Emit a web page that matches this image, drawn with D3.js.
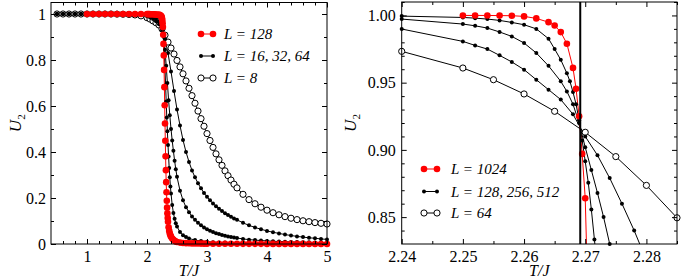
<!DOCTYPE html>
<html><head><meta charset="utf-8">
<script src="https://cdn.jsdelivr.net/npm/d3@7"></script>
<style>
body{margin:0;background:#fff}
svg{display:block}
svg text{font-family:"Liberation Serif","Times New Roman",Times,"Nimbus Roman","DejaVu Serif",serif;fill:#000}
</style>
</head><body><svg id="c" width="681" height="280"></svg>
<script>
// ---------------- DATA: left panel (T/J, U2) ----------------
const leftL8 = [[0.5,1],[0.6,1],[0.7,1],[0.8,1],[0.9,1],[1.0,1],[1.1,1],[1.2,1],[1.3,1],[1.4,1],[1.5,0.9995],[1.6,0.999],[1.7,0.998],[1.8,0.996],[1.9,0.992],
 [2.0,0.984],[2.05,0.978],[2.1,0.97],[2.15,0.962],[2.2,0.952],[2.25,0.935],[2.3,0.908],[2.35,0.878],[2.4,0.852],[2.45,0.826],
 [2.5,0.798],[2.55,0.77],[2.6,0.74],[2.65,0.709],[2.7,0.677],[2.75,0.645],[2.8,0.612],[2.85,0.578],[2.9,0.545],[2.95,0.512],
 [3.0,0.48],[3.05,0.45],[3.1,0.42],[3.15,0.392],[3.2,0.366],[3.25,0.342],[3.3,0.318],[3.35,0.297],[3.4,0.278],[3.45,0.26],[3.5,0.244],
 [3.6,0.216],[3.7,0.193],[3.8,0.175],[3.9,0.16],[4.0,0.147],[4.1,0.136],[4.2,0.127],[4.3,0.119],[4.4,0.112],[4.5,0.106],[4.6,0.101],[4.7,0.097],[4.8,0.093],[4.9,0.09],[5.0,0.087]];

const leftL16 = [[0.5,1],[0.6,1],[0.7,1],[0.8,1],[0.9,1],[1.0,1],[1.1,1],[1.2,1],[1.3,1],[1.4,1],[1.5,1],[1.6,1],[1.7,1],[1.8,0.999],[1.9,0.996],
 [2.0,0.99],[2.05,0.985],[2.1,0.978],[2.15,0.968],[2.2,0.955],[2.25,0.93],[2.3,0.89],[2.35,0.83],[2.4,0.75],[2.45,0.665],
 [2.5,0.585],[2.55,0.515],[2.6,0.452],[2.65,0.4],[2.7,0.357],[2.75,0.32],[2.8,0.29],[2.85,0.264],[2.9,0.242],[2.95,0.222],
 [3.0,0.205],[3.05,0.19],[3.1,0.176],[3.15,0.164],[3.2,0.153],[3.25,0.143],[3.3,0.134],[3.35,0.126],[3.4,0.118],[3.45,0.111],[3.5,0.105],
 [3.6,0.092],[3.7,0.081],[3.8,0.072],[3.9,0.064],[4.0,0.057],[4.1,0.051],[4.2,0.046],[4.3,0.041],[4.4,0.037],[4.5,0.033],[4.6,0.03],[4.7,0.027],[4.8,0.025],[4.9,0.022],[5.0,0.02]];

const leftL32 = [[0.5,1],[0.6,1],[0.7,1],[0.8,1],[0.9,1],[1.0,1],[1.1,1],[1.2,1],[1.3,1],[1.4,1],[1.5,1],[1.6,1],[1.7,1],[1.8,1],[1.9,0.998],
 [2.0,0.995],[2.05,0.992],[2.1,0.987],[2.15,0.979],[2.2,0.968],[2.22,0.96],[2.24,0.95],[2.26,0.932],[2.28,0.9],[2.3,0.845],[2.32,0.775],[2.34,0.7],[2.36,0.625],[2.38,0.56],
 [2.4,0.5],[2.42,0.45],[2.44,0.405],[2.46,0.362],[2.48,0.325],[2.5,0.292],[2.55,0.232],[2.6,0.19],[2.65,0.16],[2.7,0.138],[2.75,0.12],[2.8,0.105],[2.85,0.092],[2.9,0.081],[2.95,0.072],
 [3.0,0.064],[3.05,0.058],[3.1,0.052],[3.15,0.047],[3.2,0.043],[3.25,0.039],[3.3,0.036],[3.35,0.033],[3.4,0.03],[3.45,0.028],[3.5,0.026],
 [3.6,0.022],[3.7,0.019],[3.8,0.017],[3.9,0.015],[4.0,0.0135],[4.1,0.012],[4.2,0.011],[4.3,0.01],[4.4,0.009],[4.5,0.0083],[4.6,0.0077],[4.7,0.0071],[4.8,0.0066],[4.9,0.0061],[5.0,0.0057]];

const leftL64 = [[0.5,1],[0.6,1],[0.7,1],[0.8,1],[0.9,1],[1.0,1],[1.1,1],[1.2,1],[1.3,1],[1.4,1],[1.5,1],[1.6,1],[1.7,1],[1.8,1],[1.9,1],
 [2.0,0.999],[2.05,0.998],[2.1,0.996],[2.15,0.993],[2.2,0.986],[2.22,0.981],[2.24,0.973],[2.25,0.961],[2.26,0.942],[2.27,0.913],[2.28,0.874],[2.29,0.822],
 [2.3,0.76],[2.31,0.69],[2.32,0.62],[2.33,0.55],[2.34,0.49],[2.35,0.43],[2.36,0.38],[2.37,0.33],[2.38,0.29],[2.39,0.25],[2.4,0.22],
 [2.42,0.17],[2.44,0.135],[2.46,0.11],[2.48,0.09],[2.5,0.076],[2.55,0.052],[2.6,0.038],[2.65,0.03],[2.7,0.024],[2.8,0.017],[2.9,0.013],
 [3.0,0.01],[3.1,0.008],[3.2,0.007],[3.3,0.006],[3.4,0.005],[3.5,0.004]];

const leftL128 = [[1.0,1],[1.1,1],[1.2,1],[1.3,1],[1.4,1],[1.5,1],[1.6,1],[1.7,1],[1.8,1],[1.9,1],
 [2.0,0.9995],[2.02,0.9994],[2.04,0.9993],[2.06,0.9992],[2.08,0.999],[2.1,0.9988],[2.12,0.9985],[2.14,0.998],[2.16,0.9975],[2.18,0.997],[2.2,0.9965],[2.21,0.996],[2.22,0.9945],[2.23,0.9925],[2.24,0.99],
 [2.245,0.986],[2.25,0.981],[2.255,0.973],[2.26,0.96],[2.265,0.943],
 [2.27,0.91],[2.275,0.87],[2.28,0.82],[2.285,0.757],[2.29,0.682],[2.295,0.603],
 [2.3,0.524],[2.305,0.449],[2.31,0.381],[2.315,0.321],[2.32,0.269],[2.325,0.225],[2.33,0.188],[2.335,0.158],[2.34,0.133],[2.345,0.113],[2.35,0.097],
 [2.36,0.073],[2.37,0.057],[2.38,0.046],[2.39,0.038],[2.4,0.032],[2.42,0.024],[2.44,0.018],[2.46,0.014],[2.48,0.011],[2.5,0.009],[2.55,0.006],[2.6,0.0045],[2.65,0.0037],[2.7,0.003],[2.75,0.0026],[2.8,0.0022],[2.85,0.0019],[2.9,0.0017],[2.95,0.0015],
 [3.0,0.0014],[3.1,0.0012],[3.2,0.001],[3.3,0.0009],[3.4,0.0009],[3.5,0.0008],[3.6,0.0007],[3.7,0.0007],[3.8,0.0006],[3.9,0.0006],[4.0,0.0005],[4.1,0.0005],[4.2,0.0005],[4.3,0.0004],[4.4,0.0004],[4.5,0.0004],[4.6,0.0004],[4.7,0.0003],[4.8,0.0003],[4.9,0.0003],[5.0,0.0003]];

// ---------------- DATA: right panel ----------------
const rightL64 = [[2.24,0.9733],[2.25,0.9609],[2.255,0.9522],[2.26,0.9416],[2.265,0.9287],[2.27,0.9131],[2.275,0.8950],[2.28,0.8736],[2.285,0.8495]];
const rightL128 = [[2.24,0.9899],[2.25,0.9807],[2.252,0.9777],[2.254,0.975],[2.256,0.9703],[2.258,0.9654],[2.26,0.9597],[2.262,0.9522],[2.264,0.9448],[2.266,0.9374],[2.268,0.9265],
 [2.27,0.910],[2.272,0.896],[2.274,0.879],[2.276,0.860],[2.278,0.840],[2.28,0.818]];
const rightL256 = [[2.24,0.9973],[2.25,0.9936],[2.252,0.9923],[2.254,0.9906],[2.256,0.9877],[2.258,0.9844],[2.26,0.9795],[2.262,0.9721],[2.264,0.9625],[2.266,0.951],[2.267,0.9435],[2.268,0.934],[2.269,0.920],
 [2.27,0.902],[2.271,0.885],[2.272,0.868],[2.273,0.850],[2.274,0.830],[2.275,0.81]];
const rightL512 = [[2.24,0.9995],[2.25,0.9985],[2.252,0.998],[2.254,0.9973],[2.256,0.9963],[2.258,0.9948],[2.26,0.9931],[2.262,0.99],[2.264,0.9827],[2.265,0.975],[2.266,0.967],[2.267,0.957],[2.2675,0.951],[2.268,0.943],[2.2685,0.934],[2.269,0.922],
 [2.2695,0.907],[2.27,0.8915],[2.2705,0.8755],[2.271,0.8557],[2.2715,0.8334],[2.272,0.81]];
const rightL1024 = [[2.25,1.0],[2.252,1.0],[2.254,1.0],[2.256,0.9999],[2.258,0.9998],[2.26,0.9993],[2.262,0.9978],[2.264,0.995],[2.265,0.9925],[2.266,0.9876],[2.267,0.979],[2.268,0.961],[2.2685,0.9455],[2.269,0.925],[2.2695,0.897],[2.27,0.864],[2.2705,0.78]];
const criticalT = 2.269185;

// ---------------- ticks / labels ----------------
const leftXMajor = [1,2,3,4,5];
const leftXMinor = [0.6,0.8,1.2,1.4,1.6,1.8,2.2,2.4,2.6,2.8,3.2,3.4,3.6,3.8,4.2,4.4,4.6,4.8];
const leftYMajor = [0,0.2,0.4,0.6,0.8,1];
const leftYMinor = [0.1,0.3,0.5,0.7,0.9];
const rightXMajor = [2.24,2.25,2.26,2.27,2.28];
const rightXMinor = [2.245,2.255,2.265,2.275,2.285];
const rightYMajor = [0.85,0.90,0.95,1.00];
const rightYMinor = [0.84,0.86,0.87,0.88,0.89,0.91,0.92,0.93,0.94,0.96,0.97,0.98,0.99,1.01];
const leftLegend = ["L = 128","L = 16, 32, 64","L = 8"];
const rightLegend = ["L = 1024","L = 128, 256, 512","L = 64"];

const FONT = "'Liberation Serif','Times New Roman',Times,'Nimbus Roman','DejaVu Serif',serif";
const svg = d3.select("#c");

const STY = {
  red:  {line:"#ff0000", r:3.3, fill:"#ff0000", stroke:"none", sw:0},
  dot:  {line:"#000", r:2, fill:"#000", stroke:"none", sw:0},
  open: {line:"#000", r:3.1, fill:"#fff", stroke:"#000", sw:1}
};

function panel(o){
  const x = d3.scaleLinear().domain(o.xd).range([o.x0,o.x1]);
  const y = d3.scaleLinear().domain(o.yd).range([o.y1,o.y0]);
  const g = svg.append("g");
  const cid = "clip"+o.id;
  svg.append("defs").append("clipPath").attr("id",cid).append("rect")
    .attr("x",o.x0).attr("y",o.y0).attr("width",o.x1-o.x0).attr("height",o.y1-o.y0);

  const line = d3.line().x(d=>x(d[0])).y(d=>y(d[1]));
  o.series.forEach(s=>{
    const st = STY[s.style];
    g.append("path").datum(s.data).attr("d",line).attr("fill","none")
      .attr("stroke",st.line).attr("stroke-width",1).attr("clip-path","url(#"+cid+")");
  });
  o.series.forEach(s=>{
    const st = STY[s.style];
    const pts = s.data.filter(d=>d[0]>=o.xd[0]-1e-9 && d[0]<=o.xd[1]+1e-9 && d[1]>=o.yd[0] && d[1]<=o.yd[1]);
    g.append("g").selectAll("circle").data(pts).join("circle")
      .attr("cx",d=>x(d[0])).attr("cy",d=>y(d[1])).attr("r",st.r)
      .attr("fill",st.fill).attr("stroke",st.stroke).attr("stroke-width",st.sw);
  });
  if(o.vline!==undefined){
    g.append("line").attr("x1",x(o.vline)).attr("x2",x(o.vline)).attr("y1",o.y0).attr("y2",o.y1)
      .attr("stroke","#000").attr("stroke-width",2);
  }

  const ax = (gen, tr, vals, size, fmt, pad) => {
    const a = svg.append("g").attr("transform",tr)
      .call(gen.tickValues(vals).tickSize(-size).tickPadding(pad).tickFormat(fmt));
    a.attr("font-family",FONT).attr("font-size",16);
    a.select(".domain").remove();
    a.selectAll("line").attr("stroke","#000");
    a.selectAll("text").style("font-family",FONT).style("font-size","16px");
    return a;
  };
  ax(d3.axisBottom(x), `translate(0,${o.y1})`, o.xMaj, 5, o.fmtX, 7);
  ax(d3.axisBottom(x), `translate(0,${o.y1})`, o.xMin, 3, ()=>"", 7);
  ax(d3.axisTop(x), `translate(0,${o.y0})`, o.xMaj, 5, ()=>"", 3);
  ax(d3.axisTop(x), `translate(0,${o.y0})`, o.xMin, 3, ()=>"", 3);
  ax(d3.axisLeft(y), `translate(${o.x0},0)`, o.yMaj, 5, o.fmtY, o.ypad);
  ax(d3.axisLeft(y), `translate(${o.x0},0)`, o.yMin, 3, ()=>"", 5);
  ax(d3.axisRight(y), `translate(${o.x1},0)`, o.yMaj, 5, ()=>"", 3);
  ax(d3.axisRight(y), `translate(${o.x1},0)`, o.yMin, 3, ()=>"", 3);

  svg.append("rect").attr("x",o.x0).attr("y",o.y0).attr("width",o.x1-o.x0).attr("height",o.y1-o.y0)
    .attr("fill","none").attr("stroke","#000").attr("stroke-width",1);

  svg.append("text").attr("x",(o.x0+o.x1)/2).attr("y",276).attr("text-anchor","middle")
    .style("font-family",FONT).style("font-size","16px").style("font-style","italic").text("T/J");
  const yl = svg.append("text").attr("transform",`translate(${o.ylx},${(o.y0+o.y1)/2}) rotate(-90)`)
    .attr("text-anchor","middle").style("font-family",FONT).style("font-size","17px");
  yl.append("tspan").style("font-style","italic").text("U");
  yl.append("tspan").style("font-size","11px").attr("dy",4).text("2");

  o.legend.forEach((lab,i)=>{
    const st = STY[o.legStyles[i]];
    const ly = o.legY[i];
    const lg = svg.append("g");
    lg.append("line").attr("x1",o.legX[0]).attr("x2",o.legX[1]).attr("y1",ly).attr("y2",ly)
      .attr("stroke",st.line).attr("stroke-width",1);
    [o.legX[0],o.legX[1]].forEach(cx=>lg.append("circle").attr("cx",cx).attr("cy",ly).attr("r",st.r)
      .attr("fill",st.fill).attr("stroke",st.stroke).attr("stroke-width",st.sw));
    lg.append("text").attr("x",o.legX[2]).attr("y",ly+5)
      .style("font-family",FONT).style("font-size","15px").style("font-style","italic").text(lab);
  });
}

panel({id:"L", x0:51, x1:327, y0:2.5, y1:244, xd:[0.4,5], yd:[0,1.05],
  xMaj:leftXMajor, xMin:leftXMinor, yMaj:leftYMajor, yMin:leftYMinor,
  fmtX:d3.format("d"), fmtY:d=>d===0||d===1?String(d):d3.format(".1f")(d), ypad:5, ylx:21,
  series:[{data:leftL8,style:"open"},{data:leftL16,style:"dot"},{data:leftL32,style:"dot"},{data:leftL64,style:"dot"},{data:leftL128,style:"red"}],
  legend:leftLegend, legStyles:["red","dot","open"], legY:[34,56,78], legX:[201,213,224]});

panel({id:"R", x0:401.7, x1:677, y0:2, y1:244, xd:[2.24,2.285], yd:[0.83,1.01],
  xMaj:rightXMajor, xMin:rightXMinor, yMaj:rightYMajor, yMin:rightYMinor,
  fmtX:d3.format(".2f"), fmtY:d3.format(".2f"), ypad:6, ylx:356, vline:criticalT,
  series:[{data:rightL64,style:"open"},{data:rightL128,style:"dot"},{data:rightL256,style:"dot"},{data:rightL512,style:"dot"},{data:rightL1024,style:"red"}],
  legend:rightLegend, legStyles:["red","dot","open"], legY:[169,191.5,213], legX:[424,437,451]});
</script>
</body></html>
